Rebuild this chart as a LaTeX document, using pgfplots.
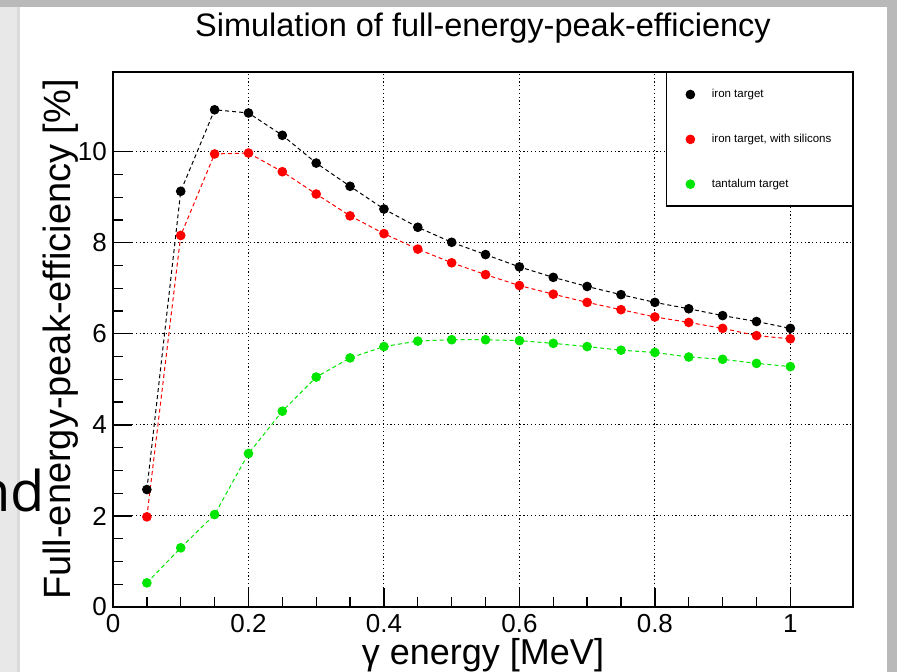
\documentclass[border=0pt]{standalone}
\usepackage{pgfplots}
\pgfplotsset{compat=1.18}
\usepackage{fontspec}
\setmainfont{Liberation Sans}
\newfontfamily\ndfont{Open Sans}
\definecolor{rootgreen}{RGB}{0,230,0}
\definecolor{rootred}{RGB}{255,0,0}
\begin{document}
\begin{tikzpicture}[x=1pt,y=1pt]
\path[use as bounding box] (0,0) rectangle (897,672);
\fill[gray!55] (0,0) rectangle (897,672);
\fill[white] (12,0) rectangle (887,665);
\fill[gray!18] (0,0) rectangle (17,665);
\fill[gray!28] (17,0) rectangle (20,665);
\node[anchor=base east, font=\ndfont\fontsize{56}{56}\selectfont, inner sep=0] at (45,160) {nd};
\begin{axis}[
  at={(113pt,65pt)}, anchor=south west,
  scale only axis, width=740pt, height=535pt,
  xmin=0, xmax=1.0925, ymin=0, ymax=11.75,
  xtick={0,0.2,0.4,0.6,0.8,1}, ytick={0,2,4,6,8,10},
  minor x tick num=3, minor y tick num=3,
  tick align=inside, xtick pos=bottom, ytick pos=left,
  major tick length=19pt, minor tick length=10pt,
  every tick/.style={black, line width=1.3pt},
  axis line style={line width=1.5pt},
  grid=major,
  major grid style={black, line width=1.1pt, dash pattern=on 1.2pt off 2.6pt},
  /pgf/number format/assume math mode=true,
  ticklabel style={font=\fontsize{26}{28}\selectfont},
  xticklabel style={inner sep=7pt},
  yticklabel style={inner sep=6pt},
  title={Simulation of full-energy-peak-efficiency},
  title style={font=\fontsize{32.5}{34}\selectfont, at={(axis description cs:0.5,1.056)}, anchor=base},
  xlabel={γ energy [MeV]},
  xlabel style={font=\fontsize{36}{38}\selectfont, at={(axis description cs:0.5,-0.1084)}, anchor=base},
  ylabel={Full-energy-peak-efficiency [\%]},
  ylabel style={font=\fontsize{38}{40}\selectfont, at={(axis description cs:-0.0581,0.5)}, anchor=base},
  legend style={at={(1,1)}, anchor=north east, draw=black, line width=1.2pt, fill=white,
    font=\fontsize{11.5}{13}\selectfont, inner xsep=19pt, inner ysep=15pt, row sep=31pt,
    cells={anchor=west}},
  legend cell align=left,
  legend image code/.code={\path (-4.3pt,0pt) (19pt,0pt); \draw[only marks] plot coordinates {(0pt,0pt)};},
]
\addplot[black, line width=1pt, dash pattern=on 4pt off 3pt, mark=*, mark size=4.3pt, mark options={solid, fill=black}] coordinates {
(0.05,2.58) (0.10,9.13) (0.15,10.92) (0.20,10.85) (0.25,10.36) (0.30,9.75) (0.35,9.24) (0.40,8.74) (0.45,8.34) (0.50,8.01) (0.55,7.74) (0.60,7.47) (0.65,7.24) (0.70,7.04) (0.75,6.86) (0.80,6.69) (0.85,6.55) (0.90,6.40) (0.95,6.27) (1.00,6.12)};
\addlegendentry{iron target}
\addplot[rootred, line width=1pt, dash pattern=on 4pt off 3pt, mark=*, mark size=4.3pt, mark options={solid, fill=rootred}] coordinates {
(0.05,1.98) (0.10,8.16) (0.15,9.95) (0.20,9.97) (0.25,9.56) (0.30,9.07) (0.35,8.59) (0.40,8.20) (0.45,7.86) (0.50,7.56) (0.55,7.30) (0.60,7.06) (0.65,6.87) (0.70,6.69) (0.75,6.53) (0.80,6.37) (0.85,6.25) (0.90,6.12) (0.95,5.96) (1.00,5.89)};
\addlegendentry{iron target, with silicons}
\addplot[rootgreen, line width=1pt, dash pattern=on 4pt off 3pt, mark=*, mark size=4.3pt, mark options={solid, fill=rootgreen}] coordinates {
(0.05,0.53) (0.10,1.30) (0.15,2.03) (0.20,3.37) (0.25,4.30) (0.30,5.05) (0.35,5.47) (0.40,5.72) (0.45,5.84) (0.50,5.87) (0.55,5.87) (0.60,5.85) (0.65,5.79) (0.70,5.72) (0.75,5.64) (0.80,5.59) (0.85,5.49) (0.90,5.44) (0.95,5.35) (1.00,5.28)};
\addlegendentry{tantalum target}
\end{axis}
\end{tikzpicture}
\end{document}
